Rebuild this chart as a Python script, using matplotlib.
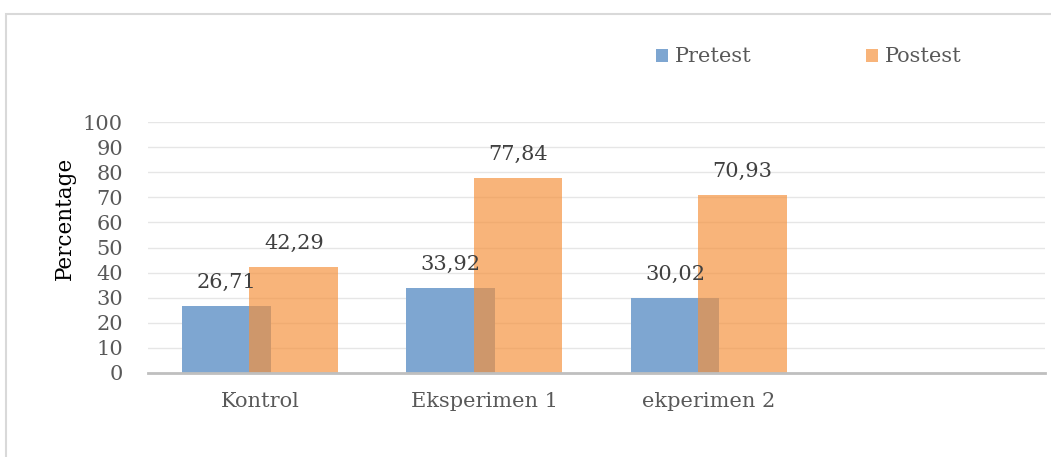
import numpy as np
import matplotlib
matplotlib.use('Agg')
import matplotlib.pyplot as plt
from matplotlib.patches import Rectangle

categories = ['Kontrol', 'Eksperimen 1', 'ekperimen 2', '']
pretest = [26.71, 33.92, 30.02, np.nan]
postest = [42.29, 77.84, 70.93, np.nan]
series_names = ['Pretest', 'Postest']

plt.rcParams['font.family'] = ['DejaVu Serif']
txt = '#595959'

fig = plt.figure(figsize=(10.51, 4.57), dpi=100)
ax = fig.add_axes([148/1051, 1-373/457, 897/1051, 251/457])

# outer chart frame
fig.patches.append(Rectangle((6/1051, -0.1), 1.2, 1-14/457+0.1, transform=fig.transFigure,
                             fill=False, edgecolor='#d9d9d9', lw=1.5))

x = np.arange(len(categories))
w = 0.395
off = 0.15
b1 = ax.bar(x - off, pretest, w, color='#7EA6D1', zorder=2, label=series_names[0])
b2 = ax.bar(x + off, postest, w, color='#F5913B', alpha=0.68, zorder=3, label=series_names[1])

for xs, vals in ((x - off, pretest), (x + off, postest)):
    for xi, v in zip(xs, vals):
        if np.isnan(v):
            continue
        ax.annotate(f'{v:.2f}'.replace('.', ','), (xi, v), xytext=(0, 17),
                    textcoords='offset points', ha='center', va='center',
                    fontsize=15, color='#404040')

ax.set_xlim(-0.5, len(categories) - 0.5)
ax.set_ylim(0, 100)
ax.set_yticks(np.arange(0, 101, 10))
ax.set_xticks(x)
ax.set_xticklabels(categories)
ax.tick_params(axis='x', length=0, pad=14, labelsize=15, labelcolor=txt)
ax.tick_params(axis='y', length=0, pad=18, labelsize=15, labelcolor=txt)
ax.grid(axis='y', color='#e6e6e6', lw=1, zorder=0)
for s in ['top', 'right', 'left']:
    ax.spines[s].set_visible(False)
ax.spines['bottom'].set_color('#bfbfbf')
ax.spines['bottom'].set_linewidth(2)
ax.spines['bottom'].set_zorder(4)

fig.text(65/1051, 1-218/457, 'Percentage', rotation=90, ha='center', va='center',
         fontsize=15.5, color='black')

# legend
fig.legend(handles=[b1, b2], labels=series_names, loc='center left',
           bbox_to_anchor=(637/1051, 1-57/457), ncol=2, frameon=False,
           fontsize=15, labelcolor=txt, handlelength=0.6, handleheight=0.6,
           handletextpad=0.3, columnspacing=5.5)

fig.savefig('out.png', dpi=100)
